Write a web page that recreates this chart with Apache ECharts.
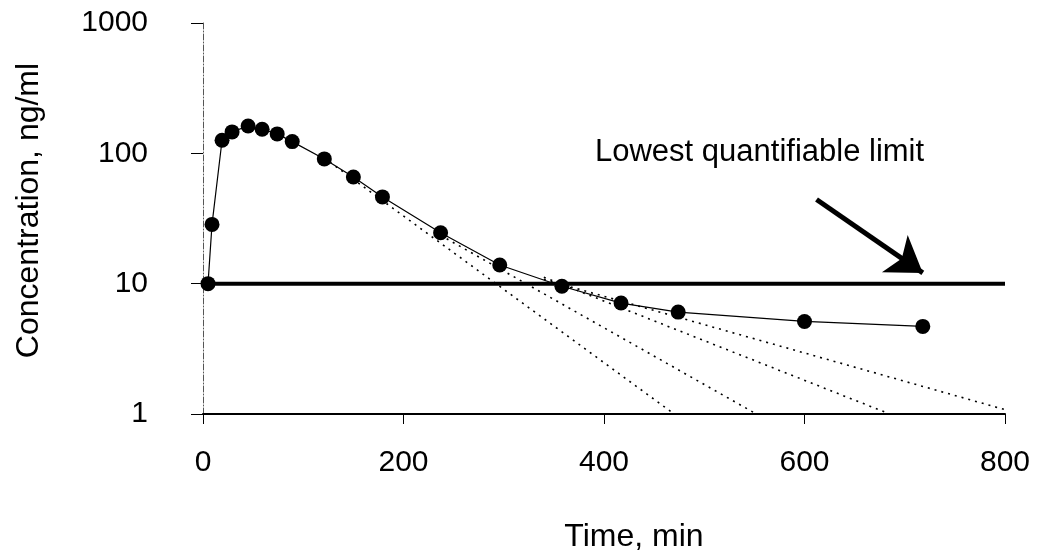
<!DOCTYPE html>
<html>
<head>
<meta charset="utf-8">
<script src="https://cdn.jsdelivr.net/npm/echarts@6/dist/echarts.min.js"></script>
<style>
html,body{margin:0;padding:0;background:#fff;}
#chart{width:1050px;height:558px;}
</style>
</head>
<body>
<div id="chart"></div>
<script>
// ---- data ----
const times = [5, 9, 19, 29, 45, 59, 74, 89, 121, 150, 179, 237, 296, 358, 417, 474, 600, 718];
const conc  = [10, 28.5, 126, 146, 162, 153, 141, 123, 90.6, 65.8, 46.3, 24.6, 13.9, 9.55, 7.1, 6.05, 5.13, 4.7];

const limitTimes = [0, 800];
const limitValue = 10;

// terminal-phase extrapolation lines (start / end)
const fitATimes = [121, 470];  const fitAConc = [92, 1];
const fitBTimes = [237, 552];  const fitBConc = [23.5, 1];
const fitCTimes = [340, 685];  const fitCConc = [11.2, 1];
const fitDTimes = [340, 800];  const fitDConc = [10.8, 1.08];

const arrowTimes = [612, 718];
const arrowConc  = [44.2, 12.1];

const xTicks = [0, 200, 400, 600, 800];
const yTicks = [1, 10, 100, 1000];

const annotationText = 'Lowest quantifiable limit';
const xName = 'Time, min';
const yName = 'Concentration, ng/ml';

// ---- build ----
const pairs = (xs, ys) => xs.map((x, i) => [x, ys[i]]);
const font = '"Liberation Sans", Arial, Helvetica, sans-serif';

const fitStyle = { color: '#000', width: 1.6, type: [2, 5] };
function fitSeries(xs, ys) {
  return {
    type: 'line', data: pairs(xs, ys), symbol: 'none', silent: true,
    lineStyle: fitStyle, z: 3
  };
}

const chart = echarts.init(document.getElementById('chart'), null, { renderer: 'canvas' });
chart.setOption({
  animation: false,
  backgroundColor: '#fff',
  grid: { left: 203, right: 45, top: 23, bottom: 141.5, containLabel: false },
  textStyle: { fontFamily: font, color: '#000' },
  xAxis: {
    type: 'value', min: xTicks[0], max: xTicks[xTicks.length - 1], interval: xTicks[1] - xTicks[0],
    name: xName, nameLocation: 'middle', nameGap: 107,
    nameTextStyle: { fontSize: 32, color: '#000', fontFamily: font, padding: [0, 0, 0, 60] },
    axisLine: { lineStyle: { color: '#000', width: 2 } },
    axisTick: { show: true, inside: false, length: 10, lineStyle: { color: '#000', width: 1 } },
    axisLabel: { fontSize: 30, color: '#000', margin: 34, fontFamily: font },
    splitLine: { show: false }
  },
  yAxis: {
    type: 'log', logBase: 10, min: yTicks[0], max: yTicks[yTicks.length - 1],
    name: yName, nameLocation: 'middle', nameGap: 158,
    nameTextStyle: { fontSize: 32, color: '#000', fontFamily: font, padding: [0, 0, 0, 16] },
    axisLine: { show: true, lineStyle: { color: '#555', width: 1, type: [6, 2, 1, 2] } },
    axisTick: { show: true, inside: false, length: 12, lineStyle: { color: '#000', width: 1 } },
    axisLabel: { fontSize: 30, color: '#000', margin: 55, fontFamily: font,
                 formatter: v => String(Math.round(v)) },
    splitLine: { show: false },
    minorTick: { show: false }
  },
  graphic: [{
    type: 'text', left: 595, top: 137,
    style: { text: annotationText, font: '31px ' + font, fill: '#000' }
  }],
  series: [
    {
      type: 'line', data: pairs(limitTimes, [limitValue, limitValue]), symbol: 'none', silent: true,
      lineStyle: { color: '#000', width: 4 }, z: 2,
      markLine: {
        silent: true, symbol: ['none', 'arrow'], symbolSize: 34,
        label: { show: false },
        lineStyle: { color: '#000', width: 5, type: 'solid' },
        emphasis: { disabled: true },
        data: [[{ coord: [arrowTimes[0], arrowConc[0]] }, { coord: [arrowTimes[1], arrowConc[1]] }]]
      }
    },
    fitSeries(fitATimes, fitAConc),
    fitSeries(fitBTimes, fitBConc),
    fitSeries(fitCTimes, fitCConc),
    fitSeries(fitDTimes, fitDConc),
    {
      type: 'line', data: pairs(times, conc), symbol: 'circle', symbolSize: 15,
      itemStyle: { color: '#000' },
      lineStyle: { color: '#000', width: 1.2 }, z: 5
    }
  ]
});
</script>
</body>
</html>
